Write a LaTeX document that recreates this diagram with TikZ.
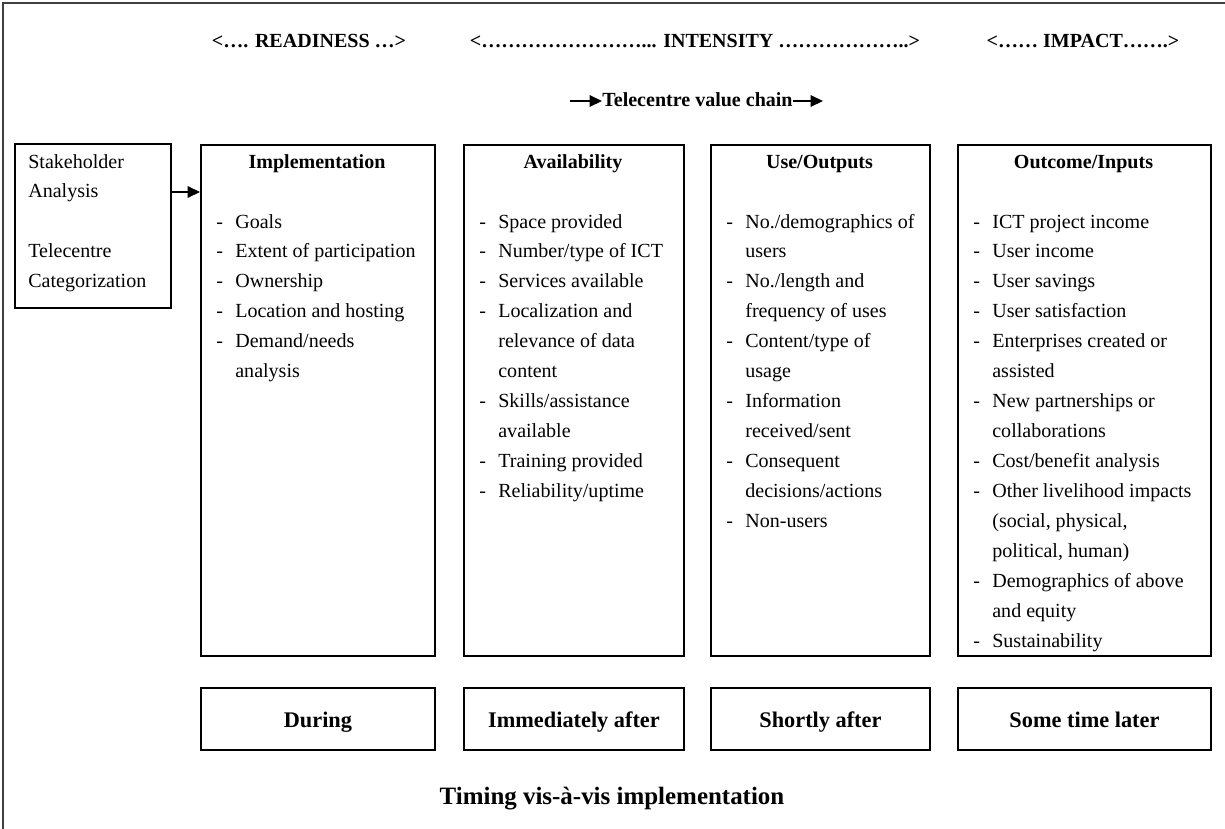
\documentclass[tikz,border=0pt]{standalone}
\usepackage{fontspec}
\setmainfont{Liberation Serif}
\usetikzlibrary{arrows.meta}

\newcommand{\itemfont}{\fontsize{11.4pt}{17.07pt}\selectfont}
\newcommand{\dashes}[1]{\begin{tabular}[t]{@{}p{0.38cm}@{}l@{}}#1\end{tabular}}

\begin{document}
\begin{tikzpicture}[x=0.02cm, y=-0.02cm,
    panel/.style={draw, line width=1.1pt, inner sep=0pt, anchor=north west},
    head/.style={font=\itemfont\bfseries, anchor=base, inner sep=0pt},
    items/.style={font=\itemfont, anchor=base west, inner sep=0pt},
    when/.style={panel, minimum height=1.24cm, text height=0.36cm, text depth=0pt,
        font=\fontsize{12.7pt}{15pt}\selectfont\bfseries},
    arr/.style={-{Triangle[length=7pt,width=6.5pt]}, line width=0.85pt}]
    \useasboundingbox (0,0) rectangle (1225,829);

    % Frame
    \draw[line width=0.6pt, black!75] (3,829) -- (3,3) -- (1225,3);

    % Phases
    \node[head] (readiness) at (309,47) {<…. READINESS …>};
    \node[head] (intensity) at (695,47) {<……………………... INTENSITY ………………..>};
    \node[head] (impact) at (1083,47) {<…… IMPACT…….>};

    % Value chain
    \node[head, anchor=base west] (chain) at (602,106) {Telecentre value chain};
    \coordinate (chainIn) at (570,101);
    \coordinate (chainOut) at (823,101);
    \draw[arr] (chainIn) -- (chain.west |- chainIn);
    \draw[arr] (chain.east |- chainOut) -- (chainOut);

    % Stakeholder box
    \node[panel, line width=0.9pt, minimum width=3.12cm, minimum height=3.28cm] (stake) at (14,143) {};
    \node[items] (stakeT) at (28,168) {\begin{tabular}[t]{@{}l@{}}Stakeholder\\ Analysis\\ \\ Telecentre\\ Categorization\end{tabular}};

    % Columns
    \node[panel, minimum width=4.68cm, minimum height=10.22cm] (impl) at (200,144) {};
    \node[panel, minimum width=4.40cm, minimum height=10.22cm] (avail) at (463,144) {};
    \node[panel, minimum width=4.38cm, minimum height=10.22cm] (use) at (710,144) {};
    \node[panel, minimum width=5.06cm, minimum height=10.22cm] (outcome) at (957,144) {};

    \coordinate (ya) at (0,192);
    \draw[arr] (stake.east |- ya) -- (impl.west |- ya);

    \node[head] (implH) at (317,168) {Implementation};
    \node[head] (availH) at (573,168) {Availability};
    \node[head] (useH) at (819.5,168) {Use/Outputs};
    \node[head] (outcomeH) at (1083.5,168) {Outcome/Inputs};

    \node[items] (implL) at (216,228) {\dashes{
        - & Goals\\ - & Extent of participation\\ - & Ownership\\
        - & Location and hosting\\ - & Demand/needs\\ & analysis}};
    \node[items] (availL) at (479,228) {\dashes{
        - & Space provided\\ - & Number/type of ICT\\ - & Services available\\
        - & Localization and\\ & relevance of data\\ & content\\
        - & Skills/assistance\\ & available\\ - & Training provided\\
        - & Reliability/uptime}};
    \node[items] (useL) at (726,228) {\dashes{
        - & No./demographics of\\ & users\\ - & No./length and\\
        & frequency of uses\\ - & Content/type of\\ & usage\\
        - & Information\\ & received/sent\\ - & Consequent\\
        & decisions/actions\\ - & Non-users}};
    \node[items] (outcomeL) at (973,228) {\dashes{
        - & ICT project income\\ - & User income\\ - & User savings\\
        - & User satisfaction\\ - & Enterprises created or\\ & assisted\\
        - & New partnerships or\\ & collaborations\\ - & Cost/benefit analysis\\
        - & Other livelihood impacts\\ & (social, physical,\\ & political, human)\\
        - & Demographics of above\\ & and equity\\ - & Sustainability}};

    % Timing
    \node[when, minimum width=4.68cm] (during) at (200,687) {During};
    \node[when, minimum width=4.40cm] (immed) at (463,687) {Immediately after};
    \node[when, minimum width=4.38cm] (shortly) at (710,687) {Shortly after};
    \node[when, minimum width=5.06cm] (later) at (957,687) {Some time later};

    \node[font=\fontsize{14.2pt}{17pt}\selectfont\bfseries, anchor=base] (timing) at (612,804) {Timing vis-à-vis implementation};
\end{tikzpicture}
\end{document}
